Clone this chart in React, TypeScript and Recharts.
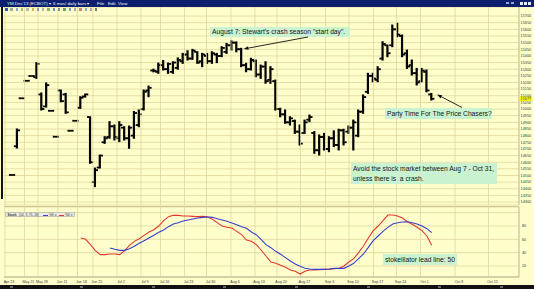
import React from 'react';
import { ComposedChart, Bar, Line, XAxis, YAxis, CartesianGrid, ReferenceLine } from 'recharts';

// ---- data ----
const opens = [
  14504, 14720, 15081, 15213, 15249, 15240, 15110, 15020, 14987, 14792,
  15140, 15110, 14837, 14912, 15010, 15095, 14940, 14450, 14560, 14750,
  14790, 14870, 14780, 14860, 14780, 14800, 14880, 15000, 15140, 15290,
  15280, 15330, 15300, 15280, 15310, 15360, 15410, 15380, 15430, 15360,
  15400, 15360, 15410, 15400, 15430, 15480, 15500, 15450, 15330, 15300,
  15360, 15260, 15320, 15220, 15210, 15000, 14960, 14900, 14910, 14830,
  14820, 14920, 14820, 14690, 14790, 14700, 14780, 14730, 14840, 14830,
  14860, 14800, 14980, 15130, 15250, 15220, 15380, 15480, 15480, 15600,
  15550, 15420, 15330, 15270, 15210, 15280, 15110,
];
const highs = [
  14506, 14850, 15083, 15215, 15251, 15349, 15121, 15196, 14989, 14794,
  15143, 15118, 14839, 14914, 15093, 15113, 14942, 14556, 14654, 14792,
  14905, 14880, 14905, 14867, 14872, 14982, 14993, 15143, 15173, 15300,
  15346, 15366, 15346, 15356, 15385, 15419, 15439, 15449, 15431, 15419,
  15419, 15431, 15419, 15469, 15494, 15514, 15505, 15457, 15344, 15382,
  15369, 15331, 15356, 15319, 15218, 15006, 14993, 14942, 14917, 14880,
  14917, 14955, 14830, 14805, 14817, 14792, 14836, 14848, 14848, 14873,
  14917, 14993, 15106, 15269, 15269, 15319, 15507, 15482, 15632, 15645,
  15557, 15444, 15369, 15306, 15306, 15294, 15118,
];
const lows = [
  14503, 14707, 15080, 15212, 15248, 15231, 14993, 15015, 14986, 14791,
  15055, 14968, 14836, 14911, 15005, 15090, 14592, 14416, 14556, 14742,
  14780, 14767, 14755, 14767, 14705, 14780, 14867, 14993, 15093, 15280,
  15269, 15294, 15269, 15269, 15300, 15344, 15369, 15374, 15344, 15319,
  15344, 15344, 15349, 15394, 15419, 15444, 15431, 15319, 15281, 15294,
  15243, 15231, 15194, 15194, 14993, 14942, 14893, 14880, 14817, 14729,
  14817, 14905, 14667, 14654, 14692, 14679, 14717, 14692, 14730, 14817,
  14692, 14792, 14968, 15118, 15206, 15206, 15369, 15394, 15469, 15544,
  15394, 15306, 15256, 15181, 15206, 15130, 15068,
];
const closes = [
  14504, 14840, 15081, 15213, 15249, 15340, 15000, 15180, 14987, 14792,
  15060, 14975, 14837, 14912, 15085, 15110, 14600, 14540, 14650, 14780,
  14870, 14790, 14880, 14780, 14860, 14970, 14960, 15130, 15160, 15288,
  15330, 15300, 15340, 15350, 15370, 15410, 15380, 15440, 15350, 15410,
  15360, 15420, 15400, 15460, 15480, 15500, 15450, 15330, 15300, 15370,
  15260, 15320, 15210, 15300, 15000, 14960, 14900, 14930, 14830, 14740,
  14900, 14940, 14690, 14790, 14700, 14780, 14730, 14840, 14750, 14860,
  14900, 14980, 15090, 15250, 15230, 15300, 15490, 15420, 15600, 15560,
  15410, 15320, 15270, 15200, 15290, 15140, 15077,
];

const stochKStart = 14;
const stochK = [
  62, 60, 52, 43, 37, 37, 38, 38, 37, 43, 51, 57, 61, 66, 71, 74.5, 80, 88, 94, 96,
  96, 95, 95, 94.5, 94, 94.5, 94, 90, 85, 80, 78, 77, 72, 67, 59, 57, 52, 44, 35, 26,
  24, 21, 18, 14, 12, 8, 12, 14, 14, 14.5, 15, 15.3, 16, 16.5, 20, 26, 31, 40, 50, 62,
  73, 80, 88, 96.4, 96.4, 95, 92, 86.4, 82.5, 78, 73, 65, 51,
];
const stochDStart = 20;
const stochD = [
  47, 45, 43.5, 43.5, 46, 49.5, 54, 58, 62, 66, 70.5, 74, 79, 83, 85, 87.5, 89, 90.5, 92, 93,
  93.5, 93, 91, 89, 87, 84.5, 82, 79, 76.5, 71, 67, 60, 52, 47.5, 42, 37.5, 32.5, 27.5, 23, 19.5,
  16.5, 15.5, 15, 15, 15, 15.5, 16.5, 16.5, 16.5, 20, 24, 31, 38, 48, 58, 65, 72, 78, 83, 85,
  86, 86.4, 85, 83, 80, 76, 70,
];

const dateTickLabels = [
  'Apr 23', 'May 21', 'May 28', 'Jun 11', 'Jun 18', 'Jun 25', 'Jul 2', 'Jul 9', 'Jul 16', 'Jul 23',
  'Jul 30', 'Aug 6', 'Aug 13', 'Aug 20', 'Aug 27', 'Sep 3', 'Sep 10', 'Sep 17', 'Sep 24', 'Oct 1',
  'Oct 8', 'Oct 15',
];
const dateTickPos = [
  -1.54, 2.46, 5.23, 9.33, 13.33, 16.51, 21.44, 26.36, 30.36, 35.28,
  39.79, 44.82, 49.74, 54.26, 59.08, 64.21, 69.03, 74.05, 78.77, 83.69,
  90.77, 97.64,
];
const priceTicks = [
  14300, 14350, 14400, 14450, 14500, 14550, 14600, 14650, 14700, 14750,
  14800, 14850, 14900, 14950, 15000, 15050, 15100, 15150, 15200, 15250,
  15300, 15350, 15400, 15450, 15500, 15550, 15600, 15650, 15700,
];
const stochTicks = [20, 40, 60, 80, 100];

// ---- styling ----
const W = 534;
const BG = '#ffffcc';
const GRID = '#ddd69c';
const AXIS = '#a8a488';
const NOTE_BG = '#c9f2d0';
const FONT = '"Liberation Sans", Arial, sans-serif';
const X_DOMAIN: [number, number] = [-1.74, 103.9];

const priceData = opens.map((o, k) => ({ k, o, h: highs[k], l: lows[k], c: closes[k] }));
const stochData = opens.map((_, k) => ({
  k,
  sk: k >= stochKStart ? stochK[k - stochKStart] : null,
  sd: k >= stochDStart ? stochD[k - stochDStart] : null,
}));
const lastClose = closes[closes.length - 1];

const OhlcShape = (props: any) => {
  const { x, y, width, height, payload } = props;
  if (x == null || y == null || !payload) return null;
  const cx = x + (width || 0) / 2;
  const top = Math.min(y, y + (height || 0));
  const bot = Math.max(y, y + (height || 0));
  const { o, h, l, c } = payload;
  const py = (v: number) => (h === l ? top : top + ((h - v) / (h - l)) * (bot - top));
  return (
    <g fill="#000">
      <rect x={cx - 1.1} y={top - 0.5} width={2.2} height={Math.max(bot - top + 1, 1.6)} />
      <rect x={cx - 3.1} y={py(o) - 0.9} width={2.4} height={1.8} />
      <rect x={cx + 0.7} y={py(c) - 0.9} width={2.4} height={1.8} />
    </g>
  );
};

const PriceTick = (p: any) => (
  <text x={p.x + 1.6} y={p.y} dy="0.35em" fontSize={3.8} fill="#3a3a3a" fontFamily={FONT} textAnchor="start">
    {p.payload.value}
  </text>
);

const StochTick = (p: any) =>
  p.payload.value === 100 ? <g /> : (
    <text x={p.x + 3} y={p.y} dy="0.35em" fontSize={3.8} fill="#3a3a3a" fontFamily={FONT} textAnchor="start">
      {p.payload.value}
    </text>
  );

const DateTick = (p: any) => {
  const i = dateTickPos.indexOf(p.payload.value);
  return (
    <text x={p.x + 4} y={p.y + 5.5} fontSize={3.6} fill="#3a3a3a" fontFamily={FONT} textAnchor="middle">
      {dateTickLabels[i]}
    </text>
  );
};

const LastLabel = (p: any) => {
  const vb = p.viewBox;
  if (!vb) return null;
  const rx = vb.x + (vb.width || 0);
  return (
    <g>
      <rect x={rx + 0.8} y={vb.y - 2.4} width={12.4} height={4.8} fill="#ffff00" />
      <text x={rx + 1.6} y={vb.y} dy="0.35em" fontSize={3.8} fill="#333" fontFamily={FONT}>
        {lastClose}
      </text>
    </g>
  );
};

const Arrow = ({ x1, y1, x2, y2 }: { x1: number; y1: number; x2: number; y2: number }) => {
  const dx = x2 - x1;
  const dy = y2 - y1;
  const len = Math.sqrt(dx * dx + dy * dy);
  const ux = dx / len;
  const uy = dy / len;
  const hl = 5;
  const hw = 1.8;
  const bx = x2 - ux * hl;
  const by = y2 - uy * hl;
  return (
    <g>
      <line x1={x1} y1={y1} x2={bx} y2={by} stroke="#111" strokeWidth={0.9} />
      <polygon
        points={`${x2},${y2} ${bx - uy * hw},${by + ux * hw} ${bx + uy * hw},${by - ux * hw}`}
        fill="#111"
      />
    </g>
  );
};

const noteStyle = (left: number, top: number, width: number, height: number): React.CSSProperties => ({
  position: 'absolute',
  left,
  top,
  width,
  height,
  background: NOTE_BG,
  fontFamily: FONT,
  fontSize: 6.7,
  color: '#151515',
  whiteSpace: 'nowrap',
  boxSizing: 'border-box',
  paddingLeft: 2,
});

const toolbarColors = [
  '#2c5fb8', '#8a8a8a', '#6b8fb5', '#7aa86a', '#a0a0a0', '#c89a40', '#7a7ab0', '#9a9a9a',
  '#5a9a5a', '#3a70b8', '#6a6a6a', '#3a8a4a', '#5a80c0', '#8a8a8a', '#b06060', '#7090b0',
  '#909090', '#505050',
];

export default function App() {
  return (
    <div
      style={{
        position: 'absolute',
        left: 0,
        top: 0,
        width: W,
        height: 289,
        background: BG,
        overflow: 'hidden',
        fontFamily: FONT,
      }}
    >
      {/* main price panel */}
      <div style={{ position: 'absolute', left: 0, top: 0 }}>
        <ComposedChart width={W} height={207} data={priceData} margin={{ top: 7, right: 0, bottom: 2, left: 4 }}>
          <CartesianGrid vertical={false} stroke={GRID} strokeWidth={0.8} />
          {dateTickPos.map((p) => (
            <ReferenceLine key={'v' + p} x={p} stroke={GRID} strokeWidth={0.8} />
          ))}
          <XAxis dataKey="k" type="number" domain={X_DOMAIN} allowDataOverflow hide />
          <YAxis
            orientation="right"
            type="number"
            domain={[14278, 15768]}
            ticks={priceTicks}
            interval={0}
            width={15}
            tickLine={false}
            tickSize={0}
            tickMargin={0}
            axisLine={{ stroke: AXIS, strokeWidth: 0.8 }}
            tick={PriceTick}
            allowDataOverflow
          />
          <Bar dataKey={(d: any) => [d.l, d.h]} barSize={4} shape={OhlcShape} isAnimationActive={false} />
          <ReferenceLine y={lastClose} stroke="none" label={LastLabel} />
        </ComposedChart>
      </div>

      {/* stochastic panel */}
      <div style={{ position: 'absolute', left: 0, top: 207 }}>
        <ComposedChart width={W} height={82} data={stochData} margin={{ top: 0, right: 0, bottom: 0, left: 4 }}>
          <CartesianGrid vertical={false} stroke={GRID} strokeWidth={0.8} />
          {dateTickPos.map((p) => (
            <ReferenceLine key={'s' + p} x={p} stroke={GRID} strokeWidth={0.8} />
          ))}
          <XAxis
            dataKey="k"
            type="number"
            domain={X_DOMAIN}
            allowDataOverflow
            ticks={dateTickPos}
            interval={0}
            height={12}
            tickLine={false}
            tickSize={0}
            tickMargin={0}
            axisLine={{ stroke: AXIS, strokeWidth: 0.8 }}
            tick={DateTick}
          />
          <YAxis
            orientation="right"
            type="number"
            domain={[3.5, 108.5]}
            ticks={stochTicks}
            interval={0}
            width={15}
            tickLine={false}
            tickSize={0}
            tickMargin={0}
            axisLine={{ stroke: AXIS, strokeWidth: 0.8 }}
            tick={StochTick}
            allowDataOverflow
          />
          <Line dataKey="sk" stroke="#e4372f" strokeWidth={1.1} dot={false} isAnimationActive={false} />
          <Line dataKey="sd" stroke="#3b3fce" strokeWidth={1.1} dot={false} isAnimationActive={false} />
        </ComposedChart>
      </div>

      {/* panel separator & left frame */}
      <div style={{ position: 'absolute', left: 4, top: 206, width: 515, height: 1, background: '#cfc99c' }} />
      <div style={{ position: 'absolute', left: 1, top: 7, width: 2, height: 192, background: '#111' }} />

      {/* title bar */}
      <div style={{ position: 'absolute', left: 0, top: 0, width: W, height: 6.5, background: '#0d1f6e' }}>
        {[
          ['YM Dec\'13 (ECBOT) ▾', 7],
          ['6 mos/ daily bars ▾', 53],
          ['File', 97],
          ['Edit', 108],
          ['View', 118],
        ].map(([t, x]) => (
          <span
            key={String(t)}
            style={{
              position: 'absolute',
              left: x as number,
              top: 0.6,
              fontSize: 4.4,
              lineHeight: '5px',
              color: '#f4f4ff',
              whiteSpace: 'nowrap',
            }}
          >
            {t}
          </span>
        ))}
        {[506, 511, 520, 524, 528].map((x, i) => (
          <div
            key={'w' + x}
            style={{
              position: 'absolute',
              left: x,
              top: i < 2 ? 2 : 1.5,
              width: i < 2 ? 3 : 2.5,
              height: i < 2 ? 2 : 3,
              background: i < 2 ? '#9aa4d0' : '#e8ecff',
            }}
          />
        ))}
      </div>

      {/* toolbar icons */}
      {toolbarColors.map((col, i) => (
        <div
          key={'t' + i}
          style={{
            position: 'absolute',
            left: 5 + i * 5.3,
            top: 7.6,
            width: i === 0 ? 3 : 2.4,
            height: 3,
            background: col,
            opacity: i === 0 ? 1 : 0.75,
          }}
        />
      ))}

      {/* annotations */}
      <div style={{ ...noteStyle(210, 27, 140, 10), lineHeight: '10px' }}>
        August 7: Stewart's crash season "start day".
      </div>
      <div style={{ ...noteStyle(385, 108, 107, 11), lineHeight: '11px' }}>Party Time For The Price Chasers?</div>
      <div style={{ ...noteStyle(351, 163, 146, 21), lineHeight: '9.5px', paddingTop: 1 }}>
        Avoid the stock market between Aug 7 - Oct 31,
        <br />
        unless there is&nbsp; a crash.
      </div>
      <div style={{ ...noteStyle(383, 254, 74, 11), lineHeight: '11px' }}>stokeillator lead line: 50</div>

      <svg
        width={W}
        height={289}
        style={{ position: 'absolute', left: 0, top: 0, pointerEvents: 'none' }}
      >
        <Arrow x1={308} y1={37} x2={243.5} y2={49} />
        <Arrow x1={462} y1={107.5} x2={437} y2={94.5} />
      </svg>

      {/* stochastic legend */}
      <div
        style={{
          position: 'absolute',
          left: 5,
          top: 212.3,
          width: 70,
          height: 4.4,
          background: '#ecece4',
          border: '0.5px solid #c4c4b4',
          boxSizing: 'border-box',
          fontSize: 3.2,
          lineHeight: '4px',
          color: '#333',
          whiteSpace: 'nowrap',
        }}
      >
        <span style={{ position: 'absolute', left: 1.5, top: 0, fontWeight: 'bold' }}>Stoch</span>
        <span style={{ position: 'absolute', left: 13, top: 0 }}>(14, 3, 75, 18)</span>
        <span style={{ position: 'absolute', left: 37, top: 1.7, width: 5, height: 0.8, background: '#3b3fce' }} />
        <span style={{ position: 'absolute', left: 43, top: 0 }}>%K ▾</span>
        <span style={{ position: 'absolute', left: 53, top: 1.7, width: 5, height: 0.8, background: '#e4372f' }} />
        <span style={{ position: 'absolute', left: 59, top: 0 }}>%D ▾</span>
      </div>

      {/* bottom bar */}
      <div style={{ position: 'absolute', left: 0, top: 285, width: W, height: 4, background: '#111' }}>
        {[10, 80, 152, 223, 295, 367, 438, 500].map((x) => (
          <div key={'b' + x} style={{ position: 'absolute', left: x, top: 1, width: 3, height: 1.5, background: '#666' }} />
        ))}
      </div>
    </div>
  );
}
